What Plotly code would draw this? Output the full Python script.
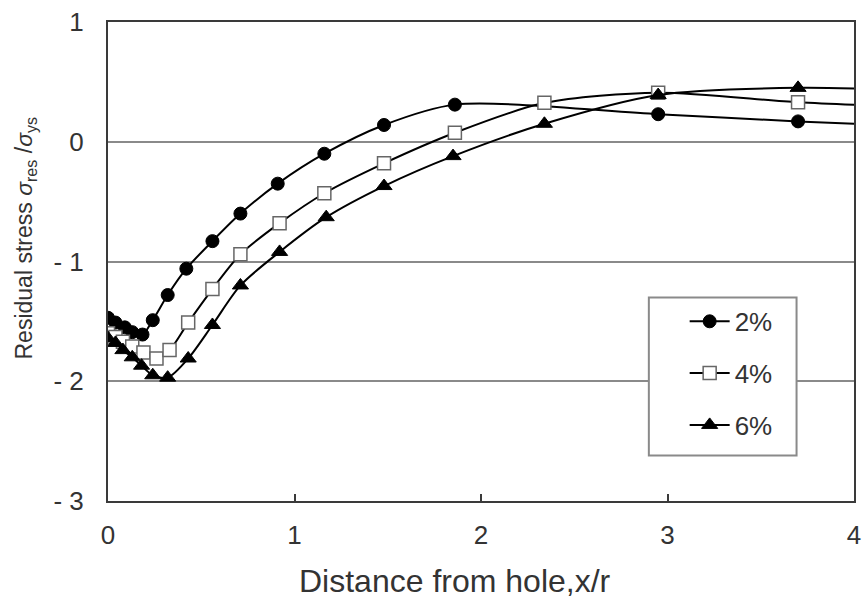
import plotly.graph_objects as go

# ---- data ----
x_2 = [0.0, 0.04, 0.09, 0.13, 0.185, 0.24, 0.32, 0.42, 0.56, 0.71, 0.91, 1.16, 1.48, 1.86, 2.95, 3.70, 4.30]
y_2 = [-1.47, -1.51, -1.55, -1.59, -1.61, -1.49, -1.28, -1.06, -0.83, -0.60, -0.35, -0.10, 0.14, 0.31, 0.23, 0.17, 0.13]

x_4 = [0.0, 0.04, 0.08, 0.13, 0.19, 0.26, 0.33, 0.43, 0.56, 0.71, 0.92, 1.16, 1.48, 1.86, 2.34, 2.95, 3.70, 4.30]
y_4 = [-1.60, -1.63, -1.67, -1.71, -1.76, -1.81, -1.74, -1.51, -1.23, -0.94, -0.68, -0.43, -0.18, 0.075, 0.325, 0.41, 0.33, 0.29]

x_6 = [0.0, 0.04, 0.08, 0.13, 0.18, 0.24, 0.32, 0.43, 0.56, 0.71, 0.92, 1.17, 1.48, 1.85, 2.34, 2.95, 3.70, 4.30]
y_6 = [-1.64, -1.68, -1.74, -1.80, -1.87, -1.95, -1.97, -1.81, -1.53, -1.20, -0.92, -0.63, -0.37, -0.12, 0.15, 0.39, 0.45, 0.43]

series_names = ["2%", "4%", "6%"]
x_ticks = [0, 1, 2, 3, 4]
y_ticks = [1, 0, -1, -2, -3]
y_tick_text = ["1", "0", "- 1", "- 2", "- 3"]

FONT = "Liberation Sans, Arial, sans-serif"
TXT = "#333333"

fig = go.Figure()
styles = [
    dict(symbol="circle", size=13, color="black", line=dict(color="black", width=1)),
    dict(symbol="square", size=13, color="white", line=dict(color="#666666", width=1.5)),
    dict(symbol="triangle-up", size=14, color="black", line=dict(color="black", width=1)),
]
for i, (xs, ys) in enumerate([(x_2, y_2), (x_4, y_4), (x_6, y_6)]):
    fig.add_trace(go.Scatter(
        x=xs, y=ys, name=series_names[i], mode="lines+markers",
        line=dict(color="black", width=2, shape="spline", smoothing=0.8),
        marker=styles[i], legendgroup=f"g{i}",
    ))

fig.update_layout(
    width=868, height=603,
    margin=dict(l=108, r=7, t=19, b=102),
    paper_bgcolor="white", plot_bgcolor="white",
    font=dict(family=FONT, size=26, color=TXT),
    showlegend=True,
    legend=dict(
        x=0.773, y=0.424, xanchor="left", yanchor="top",
        borderwidth=0, bgcolor="rgba(0,0,0,0)",
        font=dict(family=FONT, size=26, color=TXT),
        tracegroupgap=15, itemwidth=40,
    ),
    shapes=[
        # legend frame
        dict(type="rect", xref="paper", yref="paper",
             x0=0.725, x1=0.923, y0=0.095, y1=0.425,
             line=dict(color="#8a8a8a", width=2), fillcolor="white", layer="above"),
    ],
    xaxis=dict(
        range=[0, 4], tickvals=x_ticks, ticktext=[str(v) for v in x_ticks],
        showgrid=False, zeroline=False,
        showline=True, linecolor="#3a3a3a", linewidth=2, mirror=True,
        ticks="inside", ticklen=7, tickwidth=1.5, tickcolor="#3a3a3a",
        ticklabelstandoff=10,
        tickfont=dict(family=FONT, size=26, color=TXT),
    ),
    yaxis=dict(
        range=[-3, 1], tickvals=y_ticks, ticktext=y_tick_text,
        showgrid=True, gridcolor="#8a8a8a", gridwidth=2, zeroline=False,
        showline=True, linecolor="#3a3a3a", linewidth=2, mirror=True,
        ticks="", ticklabelstandoff=17,
        tickfont=dict(family=FONT, size=26, color=TXT),
    ),
    annotations=[
        dict(text="Distance from hole,x/r", xref="paper", yref="paper",
             x=0.465, y=-0.168, xanchor="center", yanchor="middle",
             showarrow=False, font=dict(family=FONT, size=32, color=TXT)),
        dict(text="Residual stress <i>σ</i><sub>res</sub> /<i>σ</i><sub>ys</sub>",
             xref="paper", yref="paper", x=-0.11, y=0.55, textangle=-90,
             xanchor="center", yanchor="middle", showarrow=False,
             font=dict(family=FONT, size=23, color=TXT)),
    ],
)

fig.write_html("out.html")
